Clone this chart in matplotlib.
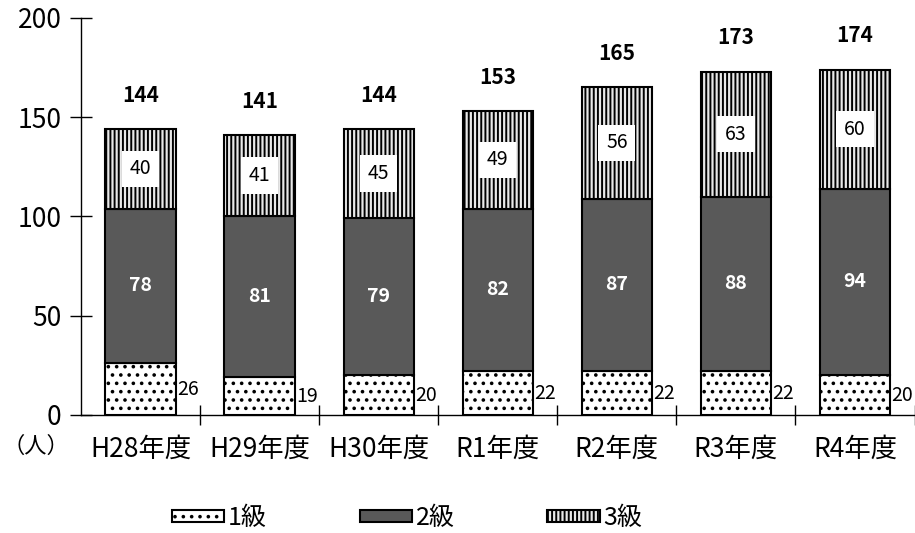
import matplotlib.pyplot as plt
import numpy as np

plt.rcParams['font.family'] = ['Noto Sans CJK JP', 'DejaVu Sans']
plt.rcParams['hatch.linewidth'] = 1.4

years = ['H28年度', 'H29年度', 'H30年度', 'R1年度', 'R2年度', 'R3年度', 'R4年度']
grade1 = [26, 19, 20, 22, 22, 22, 20]
grade2 = [78, 81, 79, 82, 87, 88, 94]
grade3 = [40, 41, 45, 49, 56, 63, 60]
totals = [144, 141, 144, 153, 165, 173, 174]

x = np.arange(len(years))
w = 0.59
g1 = np.array(grade1)
g2 = np.array(grade2)
g3 = np.array(grade3)

fig = plt.figure(figsize=(9.15, 5.33), dpi=100)
ax = fig.add_axes([0.0885, 0.2214, 0.911, 0.745])

b1 = ax.bar(x, g1, w, color='white', edgecolor='black', hatch='..', lw=1.5, label='1級')
b2 = ax.bar(x, g2, w, bottom=g1, color='#595959', edgecolor='black', lw=1.5, label='2級')
b3 = ax.bar(x, g3, w, bottom=g1 + g2, color='#e8e8e8', edgecolor='black', hatch='||||', lw=1.5, label='3級')

for i in x:
    ax.text(i + w / 2 + 0.01, g1[i] / 2, str(g1[i]), ha='left', va='center', fontsize=14)
    ax.text(i, g1[i] + g2[i] / 2, str(g2[i]), ha='center', va='center', fontsize=14,
            color='white', fontweight='bold')
    ax.text(i, g1[i] + g2[i] + g3[i] / 2, str(g3[i]), ha='center', va='center', fontsize=14,
            bbox=dict(facecolor='white', edgecolor='none', boxstyle='square,pad=0.4'))
    ax.text(i, totals[i] + 17, str(totals[i]), ha='center', va='center', fontsize=15,
            fontweight='bold')

ax.set_xlim(-0.5, len(years) - 0.5)
ax.set_ylim(0, 200)
ax.set_yticks([0, 50, 100, 150, 200])
ax.tick_params(axis='y', direction='inout', length=16, width=1, labelsize=19, pad=6)
ax.set_xticks(x)
ax.set_xticklabels(years, fontsize=19)
ax.tick_params(axis='x', length=0, pad=15)
ax.set_xticks(np.arange(len(years)) + 0.5, minor=True)
ax.tick_params(axis='x', which='minor', direction='inout', length=14, width=1)
for s in ['top', 'right']:
    ax.spines[s].set_visible(False)
ax.spines['left'].set_linewidth(1)
ax.spines['bottom'].set_linewidth(1)

fig.text(0.003, 0.163, '（人）', fontsize=16, va='center')

fig.legend(handles=[b1, b2, b3], loc='center', bbox_to_anchor=(0.445, 0.028), ncol=3,
           frameon=False, fontsize=18, handlelength=2.1, handleheight=0.35,
           columnspacing=3.7, handletextpad=0.15)

plt.savefig('out.png', dpi=100)
